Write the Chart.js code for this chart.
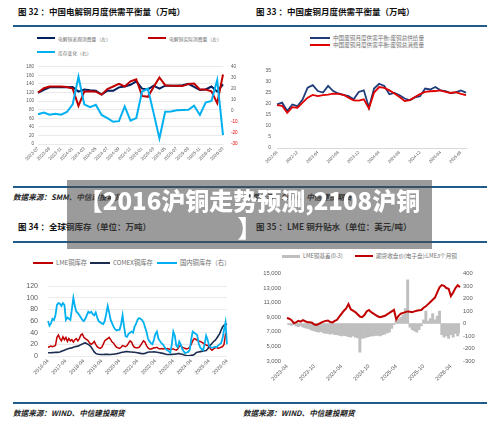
<!DOCTYPE html>
<html>
<head>
<meta charset="utf-8">
<script src="https://cdn.jsdelivr.net/npm/chart.js@4.4.0/dist/chart.umd.min.js"></script>
<style>
  body { margin: 0; width: 500px; height: 430px; position: relative; overflow: hidden; background: #fff;
         font-family: "Noto Sans CJK SC", "Noto Sans", sans-serif; }
  .abs { position: absolute; white-space: nowrap; }
  .title { font-size: 8.5px; font-weight: bold; color: #111; line-height: 10px; }
  .rule { position: absolute; height: 2px; background: #1f5c8b; }
  .src { font-size: 7.6px; font-style: italic; font-weight: bold; color: #222; line-height: 10px; }
  .leg { position: absolute; display: flex; align-items: center; color: #707070; white-space: nowrap; }
  .leg i { display: inline-block; height: 2px; margin-right: 3px; }
  canvas { position: absolute; }
  .overlay { position: absolute; left: 67px; top: 180px; width: 365px; height: 63px; padding-top: 6px;
             background: rgba(73, 73, 73, 0.55); color: #fff; font-weight: 900; font-size: 24px;
             line-height: 27px; text-align: center; z-index: 5; }
</style>
</head>
<body>
<!-- panel 32 -->
<div class="abs title" style="left:18px;top:6px">图 32 ：中国电解铜月度供需平衡量（万吨）</div>
<div class="rule" style="left:13px;top:25px;width:237px"></div>
<div class="leg" style="left:37px;top:35px;font-size:4.8px;height:6px"><i style="width:18px;background:#002060"></i>电解铜表观消费量（左）</div>
<div class="leg" style="left:148px;top:35px;font-size:4.8px;height:6px"><i style="width:18px;background:#C00000"></i>电解铜实际消费量（左）</div>
<div class="leg" style="left:37px;top:49px;font-size:4.8px;height:6px"><i style="width:18px;background:#00B0F0"></i>库存变化（右）</div>
<canvas id="c32" width="237" height="124" style="left:13px;top:56px"></canvas>
<div class="rule" style="left:13px;top:186px;width:237px"></div>
<div class="abs src" style="left:13px;top:192px">数据来源：SMM、中信建投期货</div>

<!-- panel 33 -->
<div class="abs title" style="left:256px;top:6px">图 33 ：中国废铜月度供需平衡量（万吨）</div>
<div class="rule" style="left:250px;top:25px;width:237px"></div>
<div class="leg" style="left:310px;top:35px;font-size:5.6px;height:6px"><i style="width:20px;background:#1F3D7A"></i>中国废铜月度供需平衡:废铜总供给量</div>
<div class="leg" style="left:310px;top:42px;font-size:5.6px;height:6px"><i style="width:20px;background:#E00000"></i>中国废铜月度供需平衡:废铜总消费量</div>
<canvas id="c33" width="240" height="130" style="left:250px;top:56px"></canvas>
<div class="rule" style="left:250px;top:186px;width:237px"></div>
<div class="abs src" style="left:243px;top:192px">数据来源：SMM、中信建投期货</div>

<!-- panel 34 -->
<div class="abs title" style="left:18px;top:221px">图 34 ：全球铜库存（单位：万吨）</div>
<div class="rule" style="left:13px;top:241px;width:237px"></div>
<div class="leg" style="left:33px;top:259px;font-size:6.3px;height:7px"><i style="width:20px;background:#C00000"></i>LME铜库存</div>
<div class="leg" style="left:90px;top:259px;font-size:6.3px;height:7px"><i style="width:20px;background:#1c2d50"></i>COMEX铜库存</div>
<div class="leg" style="left:157px;top:259px;font-size:6.3px;height:7px"><i style="width:20px;background:#00B0F0"></i>国内铜库存（右）</div>
<canvas id="c34" width="237" height="128" style="left:13px;top:272px"></canvas>
<div class="rule" style="left:13px;top:402px;width:237px"></div>
<div class="abs src" style="left:13px;top:408px">数据来源：WIND、中信建投期货</div>

<!-- panel 35 -->
<div class="abs title" style="left:256px;top:221px">图 35 ：LME 铜升贴水（单位：美元/吨）</div>
<div class="rule" style="left:250px;top:241px;width:237px"></div>
<div class="leg" style="left:282px;top:253px;font-size:5.6px;height:6px"><i style="width:18px;height:3px;background:#BFBFBF"></i>LME铜基差(0-3)</div>
<div class="leg" style="left:355px;top:253px;font-size:5.6px;height:6px"><i style="width:18px;background:#C00000"></i>期货收盘价(电子盘):LME3个月铜</div>
<canvas id="c35" width="240" height="130" style="left:250px;top:264px"></canvas>
<div class="rule" style="left:250px;top:402px;width:237px"></div>
<div class="abs src" style="left:243px;top:408px">数据来源：WIND、中信建投期货</div>

<div class="overlay">【2016沪铜走势预测,2108沪铜<br>】</div>

<script>
// ---- 图32 电解铜 (monthly, 2023-07 .. 2026-03)
const ticks32 = ["2023-07", "2023-09", "2023-11", "2024-01", "2024-03", "2024-05", "2024-07", "2024-09", "2024-11",
  "2025-01", "2025-03", "2025-05", "2025-07", "2025-09", "2025-11", "2026-01", "2026-03"];
const apparent32 = [119, 126, 132, 132, 133, 132, 133, 122, 127, 125, 124, 115, 124, 124, 132, 134, 138, 146, 129, 127,
  136, 129, 136, 136, 136, 137, 140, 133, 126, 127, 134, 122, 139];
const actual32 = [120, 130, 134, 134, 134, 133, 129, 89, 122, 123, 122, 115, 128, 134, 140, 134, 146, 151, 112, 110,
  133, 155, 137, 136, 136, 135, 140, 141, 127, 127, 123, 95, 162];
const stockChg32 = [-3, -1.5, -3.5, -2.5, -3.5, -1, 6, 31, 6, 3.4, 5.6, -3.7, -6.5, -9.9, -9.3, 4, -8.8, -6.5, 17.5, 20.3,
  -2, -24.9, -0.8, -0.5, 0.6, 0.8, 1, 4.8, -3.7, 7.6, 9, 28, -22];

// ---- 图33 废铜 (monthly, 2022-08 .. 2025-09)
const ticks33 = ["2022-08", "2022-12", "2023-04", "2023-08", "2023-12", "2024-04", "2024-08", "2024-12", "2025-04", "2025-08"];
const supply33 = [19.8, 20.6, 16.8, 19.8, 19, 22, 27.4, 28.6, 25.9, 25.2, 28.2, 25.9, 24.8, 24.2, 23.6, 22.1, 25.5, 26.2,
  18.3, 27, 29.2, 28.2, 24.4, 25, 24, 22.5, 21.7, 23, 23.5, 27, 26.6, 27.7, 26.2, 25.8, 25, 25.3, 26.2, 25.2];
const demand33 = [19.5, 19.2, 16, 18.6, 18.3, 20.6, 22.9, 24.1, 23.6, 24, 24.3, 24.7, 24.6, 24.2, 22.9, 21.6, 21.5, 22.1,
  18, 25.2, 27.7, 27.3, 26.2, 24.8, 23.2, 21.3, 21.8, 23.2, 24.5, 25.5, 25.8, 25.9, 26.2, 25.5, 25, 25.4, 24.6, 24];

// ---- 图34 全球铜库存 (monthly, 2016-04 .. 2026-04)
const ticks34 = ["2016-04", "2017-04", "2018-04", "2019-04", "2020-04", "2021-04", "2022-04", "2023-04", "2024-04", "2025-04", "2026-04"];
const lme34 = [15, 16, 17, 16, 17, 18, 32, 36, 30, 26, 33, 28,
  32, 25, 30, 26, 28, 24, 28, 30, 26, 30, 36, 38,
  32, 30, 28, 26, 22, 20, 22, 25, 20, 16, 14, 13,
  15, 20, 26, 28, 30, 32, 28, 24, 22, 18, 15, 14,
  13, 15, 18, 17, 16, 18, 22, 26, 24, 18, 15, 14,
  14, 15, 18, 22, 26, 24, 18, 14, 12, 12, 13, 14,
  14, 15, 13, 12, 13, 12, 13, 12, 13, 12, 11, 12,
  12, 11, 10, 12, 17, 18, 15, 14, 13, 12, 13, 15,
  20, 26, 30, 29, 27, 26, 25, 24, 22, 20, 19, 18,
  17, 12, 10, 12, 14, 15, 13, 14, 15, 16, 20, 38, 40];
const comex34 = [5.5, 5.5, 5.6, 5.8, 6, 6.2, 6.3, 6.5, 7, 8, 9, 10,
  11, 12, 13, 13.5, 14, 15, 16, 16.5, 17, 18, 19.5, 20.5,
  22, 22.5, 21, 20, 18, 15, 11, 7, 4.5, 3.5, 3, 2.5,
  2.5, 2.5, 2.8, 3, 2.8, 2.5, 2.7, 3, 3, 3.5, 4, 4.5,
  5, 6, 6.5, 7, 7.5, 7.5, 7.3, 7, 6.8, 6.5, 6.5, 6,
  5.5, 5, 4.5, 4, 4, 4.5, 5.5, 6.5, 7, 7, 7, 7.2,
  7, 6.5, 6, 5.5, 5, 4.5, 4, 3, 2.5, 2.5, 2.5, 2.8,
  3, 3.2, 3.5, 4, 4, 3.5, 3, 2, 1.2, 0.8, 0.5, 0.8,
  1.2, 1.5, 2.5, 5, 6.5, 7, 7.5, 8, 8.5, 9, 9.5, 12,
  16, 19, 22, 25, 27, 30, 34, 38, 44, 50, 53, 54, 55];
const domestic34 = [60, 52, 56, 64, 62, 70, 88, 91, 90, 86, 91, 88,
  62, 66, 64, 62, 80, 100, 86, 76, 74, 70, 66, 62,
  60, 64, 70, 76, 74, 76, 72, 70, 75, 66, 60, 58,
  56, 55, 60, 72, 86, 75, 62, 56, 50, 46, 44, 45,
  45, 55, 70, 50, 34, 33, 38, 40, 42, 40, 50, 55,
  62, 65, 64, 62, 58, 50, 42, 30, 25, 22, 20, 28,
  38, 42, 30, 26, 22, 20, 16, 12, 10, 8, 6, 20,
  42, 35, 18, 15, 25, 20, 12, 8, 5, 6, 7, 10,
  28, 42, 40, 38, 36, 22, 15, 12, 10, 20, 35, 28,
  18, 15, 14, 15, 16, 15, 18, 20, 22, 30, 45, 58, 20];

// ---- 图35 LME (half-monthly, 2023-04 .. 2026-04)
const ticks35 = ["2023-04", "2023-10", "2024-04", "2024-10", "2025-04", "2025-10", "2026-04"];
const lme3m35 = [8900, 8800, 8600, 8200, 8300, 8500, 8400, 8600, 8450, 8300, 8300, 8250, 8000, 7950, 8100, 8250,
  8400, 8500, 8550, 8350, 8300, 8500, 8650, 9100, 9500, 9900, 10200, 10800, 10100, 9900, 9700, 9400,
  9100, 9000, 9300, 9800, 10000, 9700, 9500, 9300, 9100, 9000, 9100, 9200, 9400, 9600, 9800, 10000,
  8700, 9200, 9500, 9600, 9700, 9800, 9750, 9700, 9800, 9900, 9950, 10000, 10300, 10500, 10800, 11100,
  11400, 11700, 12400, 13100, 13400, 13300, 13000, 12900, 11900, 12400, 13000, 13400, 13100];
const basis35 = [-5, -10, -15, -10, -20, -25, -20, -30, -35, -40, -45, -55, -60, -65, -70, -65,
  -75, -80, -80, -85, -80, -90, -90, -95, -100, -95, -100, -105, -110, -100, -110, -115,
  -230, -120, -115, -110, -105, -100, -100, -95, -95, -100, -90, -85, -75, -70, -40, -10,
  20, 35, 50, 70, 120, 350, -30, -50, -60, -70, -50, -20, 30, 100,
  20, 40, 80, 30, 60, 100, -90, -110, -100, -120, -90, -110, -80, -100, -75];

function monthLabels(start, count, perMonth = 1) {
  const [y0, m0] = start.split("-").map(Number);
  const out = [];
  for (let i = 0; i < count; i++) {
    const k = m0 - 1 + Math.floor(i / perMonth);
    const ym = `${y0 + Math.floor(k / 12)}-${String((k % 12) + 1).padStart(2, "0")}`;
    out.push(perMonth === 1 ? ym : `${ym}-${i % perMonth === 0 ? "01" : "16"}`);
  }
  return out;
}

function tickFilter(list, step) {
  return function (value, index) {
    const lab = String(this.getLabelForValue(value)).slice(0, 7);
    return index % step === 0 && list.includes(lab) ? lab : null;
  };
}

function xAxis(list, step, size, height, extra = {}) {
  return {
    offset: false,
    grid: { display: false, drawTicks: false },
    border: { display: false },
    ticks: { autoSkip: false, minRotation: 45, maxRotation: 45, padding: 2, font: { size }, callback: tickFilter(list, step) },
    afterFit: (s) => { s.height = height; },
    ...extra,
  };
}

Chart.defaults.font.family = '"Liberation Sans", "Noto Sans CJK SC", sans-serif';
Chart.defaults.color = "#595959";
Chart.defaults.animation = false;
Chart.defaults.plugins.legend.display = false;
Chart.defaults.plugins.tooltip.enabled = false;
Chart.defaults.elements.point.radius = 0;
Chart.defaults.elements.line.tension = 0;

new Chart(document.getElementById("c32"), {
  type: "line",
  data: {
    labels: monthLabels("2023-07", apparent32.length),
    datasets: [
      { label: "电解铜表观消费量（左）", data: apparent32, borderColor: "#002060", borderWidth: 2, order: 2 },
      { label: "电解铜实际消费量（左）", data: actual32, borderColor: "#C00000", borderWidth: 2, order: 1 },
      { label: "库存变化（右）", data: stockChg32, yAxisID: "y1", borderColor: "#00B0F0", borderWidth: 2, order: 0 },
    ],
  },
  options: {
    responsive: false,
    layout: { padding: { top: 6, left: 0, right: 0, bottom: 0 } },
    scales: {
      x: xAxis(ticks32, 2, 4.6, 36),
      y: {
        min: 0, max: 180,
        ticks: { stepSize: 20, padding: 4, font: { size: 4.6 } },
        grid: { color: "#dcdcdc", lineWidth: 0.6, drawTicks: false },
        border: { display: false },
        afterFit: (s) => { s.width = 25; },
      },
      y1: {
        position: "right", min: -30, max: 40,
        ticks: { stepSize: 10, padding: 8, font: { size: 4.6 }, color: (c) => (c.tick.value < 0 ? "#E00000" : "#595959") },
        grid: { display: false, drawTicks: false },
        border: { display: false },
        afterFit: (s) => { s.width = 27; },
      },
    },
  },
});

new Chart(document.getElementById("c33"), {
  type: "line",
  data: {
    labels: monthLabels("2022-08", supply33.length),
    datasets: [
      { label: "中国废铜月度供需平衡:废铜总供给量", data: supply33, borderColor: "#1F3D7A", borderWidth: 1.8, order: 1 },
      { label: "中国废铜月度供需平衡:废铜总消费量", data: demand33, borderColor: "#E00000", borderWidth: 1.8, order: 0 },
    ],
  },
  options: {
    responsive: false,
    layout: { padding: { top: 15, left: 0, right: 24, bottom: 0 } },
    scales: {
      x: xAxis(ticks33, 4, 4.2, 38, { border: { display: true, color: "#d9d9d9", width: 1 } }),
      y: {
        min: 0, max: 35,
        ticks: { stepSize: 5, padding: 6, font: { size: 5 } },
        grid: { display: false, drawTicks: false },
        border: { display: false },
        afterFit: (s) => { s.width = 27; },
      },
    },
  },
});

new Chart(document.getElementById("c34"), {
  type: "line",
  data: {
    labels: monthLabels("2016-04", lme34.length),
    datasets: [
      { label: "LME铜库存", data: lme34, borderColor: "#C00000", borderWidth: 1.5, order: 2 },
      { label: "COMEX铜库存", data: comex34, borderColor: "#1c2d50", borderWidth: 1.6, order: 1 },
      { label: "国内铜库存（右）", data: domestic34, borderColor: "#00B0F0", borderWidth: 1.8, order: 0 },
    ],
  },
  options: {
    responsive: false,
    layout: { padding: { top: 9, left: 0, right: 23, bottom: 0 } },
    scales: {
      x: xAxis(ticks34, 12, 5.2, 44),
      y: {
        min: 0, max: 120,
        ticks: { stepSize: 20, padding: 10, font: { size: 7 } },
        grid: { color: "#e3e3e3", lineWidth: 0.7, drawTicks: false },
        border: { display: false },
        afterFit: (s) => { s.width = 35; },
      },
    },
  },
});

new Chart(document.getElementById("c35"), {
  type: "bar",
  data: {
    labels: monthLabels("2023-04", lme3m35.length, 2),
    datasets: [
      { type: "line", label: "期货收盘价(电子盘):LME3个月铜", data: lme3m35, yAxisID: "y",
        borderColor: "#C00000", borderWidth: 2, order: 0 },
      { type: "bar", label: "LME铜基差(0-3)", data: basis35, yAxisID: "y1", backgroundColor: "#BFBFBF",
        borderWidth: 0, barPercentage: 1, categoryPercentage: 1, order: 1 },
    ],
  },
  options: {
    responsive: false,
    layout: { padding: { top: 9, left: 0, right: 0, bottom: 0 } },
    scales: {
      x: xAxis(ticks35, 12, 5.6, 33),
      y: {
        min: 3000, max: 15000,
        ticks: { stepSize: 2000, padding: 6, font: { size: 5.8 }, callback: (v) => v.toLocaleString("en-US") },
        grid: { display: false, drawTicks: false },
        border: { display: false },
        afterFit: (s) => { s.width = 37; },
      },
      y1: {
        position: "right", min: -300, max: 400,
        ticks: { stepSize: 100, padding: 3, font: { size: 5.8 } },
        grid: { display: false, drawTicks: false },
        border: { display: false },
        afterFit: (s) => { s.width = 30; },
      },
    },
  },
});
</script>
</body>
</html>
